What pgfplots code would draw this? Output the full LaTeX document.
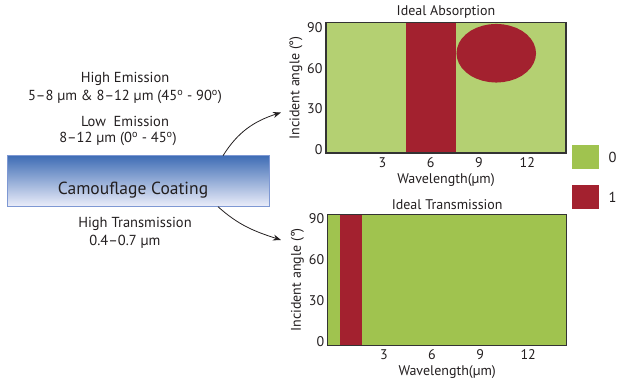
\documentclass[border=0pt]{standalone}
\usepackage{pgfplots}
\pgfplotsset{compat=1.18}
\usepackage{fontspec}
\setmainfont{PT Sans}
\usetikzlibrary{arrows.meta}
\definecolor{gA}{HTML}{B4D072}
\definecolor{gB}{HTML}{A0C34F}
\definecolor{rd}{HTML}{A3212F}
\definecolor{txt}{HTML}{231F20}
\definecolor{frame}{HTML}{333333}
\definecolor{bl1}{HTML}{3F6DB5}
\definecolor{bl2}{HTML}{8EA3DA}
\definecolor{bl3}{HTML}{ECEEFA}
\pgfplotsset{
  myax/.style={
    scale only axis, axis on top,
    xmin=-0.25, xmax=14.65, ymin=-2.5, ymax=93.5,
    xtick={3,6,9,12}, ytick={0,30,60,90},
    major tick length=0pt,
    axis line style={draw=frame, line width=1.1pt},
    tick label style={font=\fontsize{14}{16}\selectfont, text=txt},
    label style={font=\fontsize{14}{16}\selectfont, text=txt},
    title style={font=\fontsize{14}{16}\selectfont, text=txt, yshift=-5pt},
    /pgf/number format/assume math mode=true,
    xlabel={Wavelength(µm)}, ylabel={Incident angle (°)},
    xlabel style={yshift=1pt}, ylabel style={yshift=-2pt},
    xticklabel style={yshift=-1pt, xshift=4pt},
  }
}
\begin{document}
\begin{tikzpicture}[x=1pt,y=1pt]
\useasboundingbox (0,0) rectangle (617,385);
% left diagram
\shade[top color=bl1, middle color=bl2, bottom color=bl3] (7.3,178.3) rectangle (269.3,229.3);
\draw[color=bl2!80!bl1, line width=0.6pt] (7.3,178.3) rectangle (269.3,229.3);
\node[text=txt, font=\fontsize{17.5}{20}\selectfont] at (133,195) {Camouflage Coating};
\node[text=txt, font=\fontsize{14.5}{16}\selectfont] at (125,306) {High Emission};
\node[text=txt, font=\fontsize{14.5}{16}\selectfont] at (125,288.3) {5–8 µm \& 8–12 µm (45\textsuperscript{o} - 90\textsuperscript{o})};
\node[text=txt, font=\fontsize{14.5}{16}\selectfont] at (125,264) {Low\ \ Emission};
\node[text=txt, font=\fontsize{14.5}{16}\selectfont] at (118,245.7) {8–12 µm (0\textsuperscript{o} - 45\textsuperscript{o})};
\node[text=txt, font=\fontsize{14.5}{16}\selectfont] at (135,161) {High Transmission};
\node[text=txt, font=\fontsize{14.5}{16}\selectfont] at (125,143.3) {0.4–0.7 µm};
\draw[txt, line width=0.8pt, -{Stealth[length=8pt,width=6pt]}] (223,229.3) to[out=58, in=198] (281,272.5);
\draw[txt, line width=0.8pt, -{Stealth[length=8pt,width=6pt]}] (218,178.3) to[out=-42, in=162] (281,145);
% legend
\fill[gB] (572.3,216) rectangle (599.3,240);
\fill[rd] (572.3,175.7) rectangle (599.3,199.7);
\node[text=txt, font=\fontsize{14.5}{16}\selectfont, anchor=west] at (605,228) {0};
\node[text=txt, font=\fontsize{14.5}{16}\selectfont, anchor=west] at (605,187.7) {1};
% top axis
\begin{axis}[myax, at={(326pt,232pt)}, anchor=south west, width=240pt, height=130.3pt,
  title={Ideal Absorption}, axis background/.style={fill=gA}]
\addplot[fill=rd, draw=none] coordinates {(4.7,-2.5) (7.85,-2.5) (7.85,93.5) (4.7,93.5)} --cycle;
\addplot[fill=rd, draw=none] coordinates {
(12.79,71.0) (12.75,74.75) (12.64,78.39) (12.46,81.80) (12.21,84.88) (11.91,87.55)
(11.56,89.71) (11.16,91.30) (10.75,92.27) (10.32,92.60) (9.89,92.27) (9.48,91.30)
(9.09,89.71) (8.73,87.55) (8.43,84.88) (8.18,81.80) (8.00,78.39) (7.89,74.75)
(7.85,71.0) (7.89,67.25) (8.00,63.61) (8.18,60.20) (8.43,57.12) (8.73,54.45)
(9.09,52.29) (9.48,50.70) (9.89,49.73) (10.32,49.40) (10.75,49.73) (11.16,50.70)
(11.56,52.29) (11.91,54.45) (12.21,57.12) (12.46,60.20) (12.64,63.61) (12.75,67.25)} --cycle;
\end{axis}
% bottom axis
\begin{axis}[myax, at={(327.7pt,39.7pt)}, anchor=south west, width=239pt, height=131pt,
  title={Ideal Transmission}, axis background/.style={fill=gB}]
\addplot[fill=rd, draw=none] coordinates {(0.5,-2.5) (1.9,-2.5) (1.9,93.5) (0.5,93.5)} --cycle;
\end{axis}
\end{tikzpicture}
\end{document}
